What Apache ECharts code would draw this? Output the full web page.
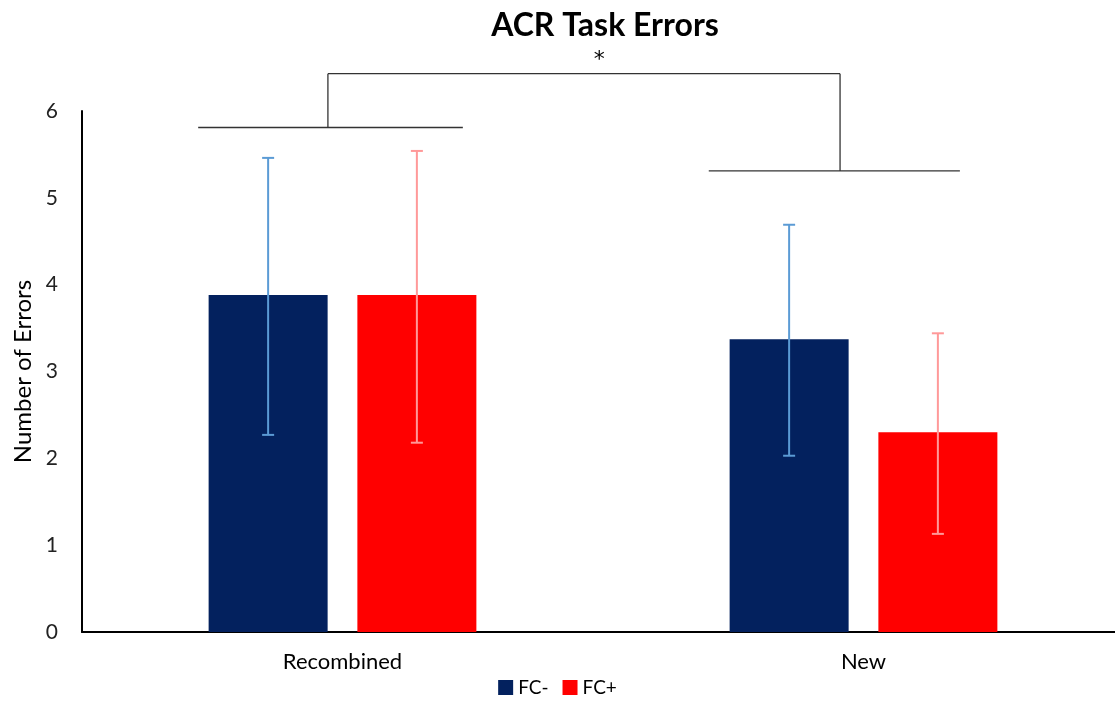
<!DOCTYPE html>
<html>
<head>
<meta charset="utf-8">
<script src="https://cdn.jsdelivr.net/npm/echarts@6/dist/echarts.min.js"></script>
<style>html,body{margin:0;padding:0;background:#fff}#c{width:1115px;height:705px}</style>
</head>
<body>
<div id="c"></div>
<script>
var categories = ['Recombined', 'New'];
var seriesNames = ['FC-', 'FC+'];
var fcMinus = [3.88, 3.37];
var fcPlus = [3.88, 2.30];
var fcMinusLow = [2.27, 2.03];
var fcMinusHigh = [5.46, 4.69];
var fcPlusLow = [2.18, 1.13];
var fcPlusHigh = [5.54, 3.44];
var yTicks = [0, 1, 2, 3, 4, 5, 6];
// significance bracket (data units: category index offsets and y values)
var bracketLeft = {from: -0.277, to: 0.231, stem: -0.028, y: 5.81};
var bracketRight = {from: -0.297, to: 0.185, stem: -0.045, y: 5.31};
var bracketTopY = 6.43;
var sigLabel = '*';
var sigPos = 0.53; // fraction along top line

var FONT = 'Lato, "Open Sans", sans-serif';
var BAR_W = 119, GAP = 0.25;
var OFFSET = (BAR_W + BAR_W * GAP) / 2;

function errSeries(name, low, high, color, dir) {
  return {
    type: 'custom', name: name + ' err', silent: true, z: 5,
    data: categories.map(function (c, i) { return [i, low[i], high[i]]; }),
    encode: {x: 0, y: [1, 2]},
    renderItem: function (params, api) {
      var lo = api.coord([api.value(0), api.value(1)]);
      var hi = api.coord([api.value(0), api.value(2)]);
      var x = lo[0] + dir * OFFSET;
      var cap = 6;
      var st = {stroke: color, lineWidth: 2};
      return {type: 'group', children: [
        {type: 'line', shape: {x1: x, y1: lo[1], x2: x, y2: hi[1]}, style: st},
        {type: 'line', shape: {x1: x - cap, y1: lo[1], x2: x + cap, y2: lo[1]}, style: st},
        {type: 'line', shape: {x1: x - cap, y1: hi[1], x2: x + cap, y2: hi[1]}, style: st}
      ]};
    }
  };
}

var chart = echarts.init(document.getElementById('c'));
chart.setOption({
  backgroundColor: '#fff',
  animation: false,
  title: {text: 'ACR Task Errors', left: 600, textAlign: 'center', top: 5,
    textStyle: {fontFamily: FONT, fontSize: 32, fontWeight: 'bold', color: '#000'}},
  legend: {data: seriesNames, bottom: 3, left: 'center', icon: 'rect', itemWidth: 15, itemHeight: 15, itemGap: 14,
    textStyle: {fontFamily: FONT, fontSize: 19, color: '#000'}},
  grid: {left: 82, width: 1042, top: 111, bottom: 73, containLabel: false, outerBoundsMode: 'none'},
  xAxis: {type: 'category', data: categories,
    axisLine: {lineStyle: {color: '#000', width: 2}}, axisTick: {show: false},
    axisLabel: {fontFamily: FONT, fontSize: 22, color: '#000', margin: 19}},
  yAxis: {type: 'value', min: yTicks[0], max: yTicks[yTicks.length - 1], interval: 1,
    name: 'Number of Errors', nameLocation: 'middle', nameGap: 46,
    nameTextStyle: {fontFamily: FONT, fontSize: 24, color: '#000'},
    axisLine: {show: true, lineStyle: {color: '#000', width: 2}}, axisTick: {show: false},
    splitLine: {show: false},
    axisLabel: {fontFamily: FONT, fontSize: 21, color: '#222', margin: 24}},
  series: [
    {type: 'bar', name: seriesNames[0], data: fcMinus, barWidth: BAR_W, barGap: (GAP * 100) + '%', itemStyle: {color: '#03215E'}},
    {type: 'bar', name: seriesNames[1], data: fcPlus, barWidth: BAR_W, itemStyle: {color: '#FF0000'}},
    errSeries(seriesNames[0], fcMinusLow, fcMinusHigh, '#5B9BD5', -1),
    errSeries(seriesNames[1], fcPlusLow, fcPlusHigh, '#FF9999', 1)
  ]
});

function px(xv, yv) {
  var p0 = chart.convertToPixel({xAxisIndex: 0}, 0);
  var p1 = chart.convertToPixel({xAxisIndex: 0}, 1);
  var band = p1 - p0;
  return [p0 + xv * band, chart.convertToPixel({yAxisIndex: 0}, yv)];
}
var L1 = px(0 + bracketLeft.from, bracketLeft.y), L2 = px(0 + bracketLeft.to, bracketLeft.y);
var LS = px(0 + bracketLeft.stem, bracketLeft.y), LT = px(0 + bracketLeft.stem, bracketTopY);
var R1 = px(1 + bracketRight.from, bracketRight.y), R2 = px(1 + bracketRight.to, bracketRight.y);
var RS = px(1 + bracketRight.stem, bracketRight.y), RT = px(1 + bracketRight.stem, bracketTopY);
var lst = {stroke: '#333', lineWidth: 1.3};
chart.setOption({graphic: [
  {type: 'line', shape: {x1: L1[0], y1: L1[1], x2: L2[0], y2: L2[1]}, style: lst},
  {type: 'line', shape: {x1: LS[0], y1: LS[1], x2: LT[0], y2: LT[1]}, style: lst},
  {type: 'line', shape: {x1: LT[0], y1: LT[1], x2: RT[0], y2: RT[1]}, style: lst},
  {type: 'line', shape: {x1: RS[0], y1: RS[1], x2: RT[0], y2: RT[1]}, style: lst},
  {type: 'line', shape: {x1: R1[0], y1: R1[1], x2: R2[0], y2: R2[1]}, style: lst},
  {type: 'text', x: LT[0] + sigPos * (RT[0] - LT[0]), y: LT[1] - 2,
    style: {text: sigLabel, fontFamily: '"DejaVu Sans", sans-serif', fontSize: 22, fill: '#000', textAlign: 'center', textVerticalAlign: 'bottom'}}
]});
</script>
</body>
</html>
